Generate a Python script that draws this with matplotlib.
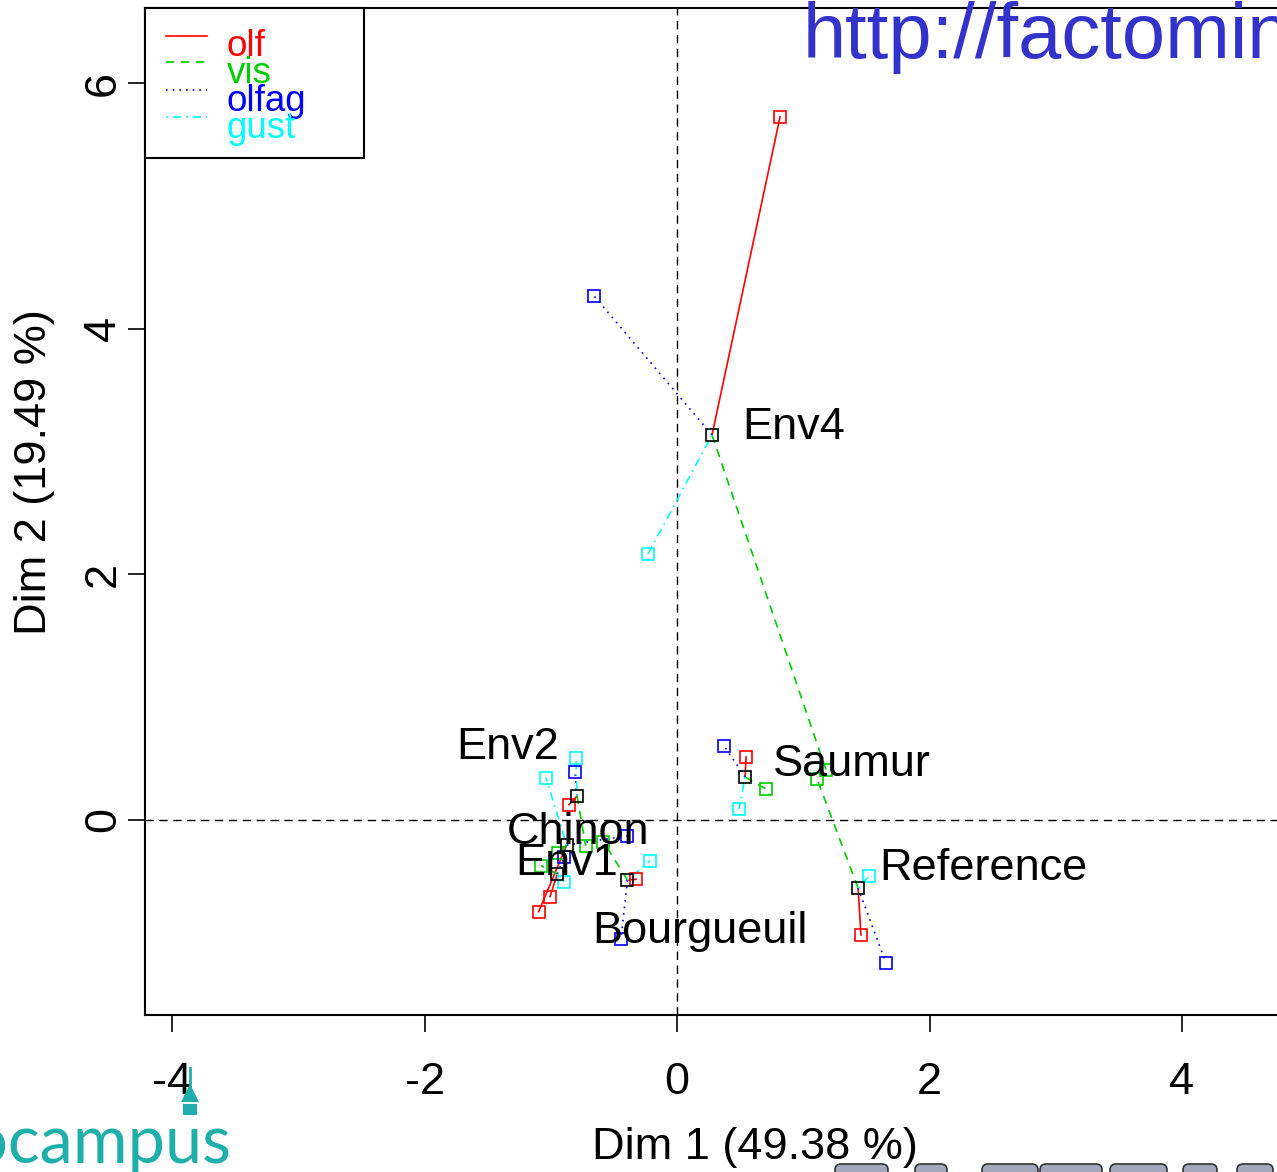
import numpy as np
import matplotlib
matplotlib.use("Agg")
import matplotlib.pyplot as plt
from matplotlib.lines import Line2D
from matplotlib.patches import Rectangle, Polygon, FancyBboxPatch
from matplotlib.transforms import Affine2D

# individus et points moyens
individus = ["Env1", "Env2", "Env4", "Chinon", "Saumur", "Bourgueuil", "Reference"]
centre_x = [-0.948, -0.792, 0.277, -0.874, 0.539, -0.393, 1.434]
centre_y = [-0.440, 0.195, 3.135, -0.204, 0.350, -0.489, -0.554]

# points partiels par groupe
olf_x = [-1.006, -0.855, 0.816, -1.096, 0.547, -0.325, 1.457]
olf_y = [-0.624, 0.125, 5.725, -0.746, 0.513, -0.483, -0.936]
vis_x = [-1.077, -0.723, 1.180, -0.940, 0.705, -0.584, 1.109]
vis_y = [-0.372, -0.212, 0.407, -0.266, 0.252, -0.176, 0.334]
olfag_x = [-0.892, -0.808, -0.657, -0.399, 0.372, -0.444, 1.655]
olfag_y = [-0.299, 0.391, 4.267, -0.130, 0.603, -0.969, -1.164]
gust_x = [-0.892, -0.800, -0.230, -1.038, 0.491, -0.214, 1.521]
gust_y = [-0.502, 0.508, 2.166, 0.345, 0.090, -0.331, -0.456]

groupes = ["olf", "vis", "olfag", "gust"]
x_ticks = [-4, -2, 0, 2, 4]
y_ticks = [0, 2, 4, 6]

# estilos
cores = ["#FF0000", "#00CD00", "#0000FF", "#00FFFF"]
tracos = ["-", (0, (5, 4)), (0, (1, 3)), (0, (1, 3, 5, 3))]
desloc = {"Env1": (-30, -1), "Env2": (-87, 27), "Env4": (22, -3), "Chinon": (-43, 1),
          "Saumur": (20, 1), "Bourgueuil": (-25, -45), "Reference": (15, 6)}
fs = 32.5

W, H = 1277, 1172
plt.rcParams["font.family"] = ["Liberation Sans", "DejaVu Sans"]
plt.rcParams["axes.unicode_minus"] = False

fig = plt.figure(figsize=(W / 100, H / 100), dpi=100)
px = Affine2D().scale(1 / W, -1 / H).translate(0, 1) + fig.transFigure

# eixos em pixels: esquerda 145, topo 8, base 1015, direita 1365
ax = fig.add_axes([145 / W, 1 - 1015 / H, (1365 - 145) / W, (1015 - 8) / H])
ax.set_xlim(-4.214, 5.449)
ax.set_ylim(-1.588, 6.612)

ax.axhline(0, color="black", lw=1.0, ls=(0, (6, 4)), zorder=1)
ax.axvline(0, color="black", lw=1.0, ls=(0, (6, 4)), zorder=1)

partiais = [(olf_x, olf_y), (vis_x, vis_y), (olfag_x, olfag_y), (gust_x, gust_y)]
for (gx, gy), cor, traco in zip(partiais, cores, tracos):
    for i in range(len(individus)):
        ax.plot([centre_x[i], gx[i]], [centre_y[i], gy[i]], color=cor, ls=traco, lw=1.2, zorder=2)
    ax.plot(gx, gy, ls="none", marker="s", ms=8, mfc="none", mec=cor, mew=1.2, zorder=3)

ax.plot(centre_x, centre_y, ls="none", marker="s", ms=8, mfc="none", mec="black", mew=1.2, zorder=4)

for i, nome in enumerate(individus):
    ax.annotate(nome, (centre_x[i], centre_y[i]), xytext=desloc[nome], textcoords="offset points",
                fontsize=fs, ha="left", va="baseline", zorder=5)

for s in ax.spines.values():
    s.set_linewidth(1.5)
ax.set_xticks(x_ticks)
ax.set_yticks(y_ticks)
ax.tick_params(axis="x", length=12, width=1.2, pad=22, labelsize=fs)
ax.tick_params(axis="y", length=12, width=1.2, pad=3, labelsize=fs, labelrotation=90)
for lab in ax.get_yticklabels():
    lab.set_va("center")

fig.text(755 / W, 1 - 1148 / H, "Dim 1 (49.38 %)", fontsize=fs, ha="center", va="center")
fig.text(35 / W, 1 - 472 / H, "Dim 2 (19.49 %)", fontsize=fs, ha="center", va="center", rotation=90)

# legenda desenhada a mao
fig.add_artist(Rectangle((145, 8), 219, 150, transform=px, fill=True, fc="white", ec="black", lw=1.5, zorder=6))
linhas_y = [36, 62, 90, 117]
base_y = [56, 83, 111, 138]
for g, cor, traco, ly, by in zip(groupes, cores, tracos, linhas_y, base_y):
    fig.add_artist(Line2D([166, 207], [ly, ly], transform=px, color=cor, ls=traco, lw=1.2, zorder=7))
    fig.text(227 / W, 1 - by / H, g, color=cor, fontsize=26.5, ha="left", va="baseline", zorder=7)

# marcas d'agua do video
fig.text(803 / W, 1 - 58 / H, "http://factominer.free.fr", color="#3333CC", fontsize=56,
         ha="left", va="baseline", zorder=10)
fig.text(232 / W, 1 - 1163 / H, "agrocampus", color="#1FAFAA", fontsize=48,
         family=["Lato", "DejaVu Sans"], ha="right", va="baseline", zorder=10)
fig.add_artist(Line2D([190, 190], [1068, 1090], transform=px, color="#1FAFAA", lw=2, zorder=10))
fig.add_artist(Polygon([[181, 1102], [199, 1102], [190, 1084]], closed=True, transform=px,
                       fc="#1FAFAA", ec="none", zorder=10))
fig.add_artist(Rectangle((183, 1104), 14, 11, transform=px, fc="#1FAFAA", ec="none", zorder=10))
for x0, x1 in [(835, 888), (915, 947), (982, 1038), (1040, 1102), (1110, 1167), (1183, 1217), (1237, 1273)]:
    fig.add_artist(FancyBboxPatch((x0, 1164), x1 - x0, 14, boxstyle="round,pad=0,rounding_size=6",
                                  transform=px, fc="#A4A8BC", ec="#333333", lw=1.2, zorder=10))

fig.savefig("out.png", dpi=100)
